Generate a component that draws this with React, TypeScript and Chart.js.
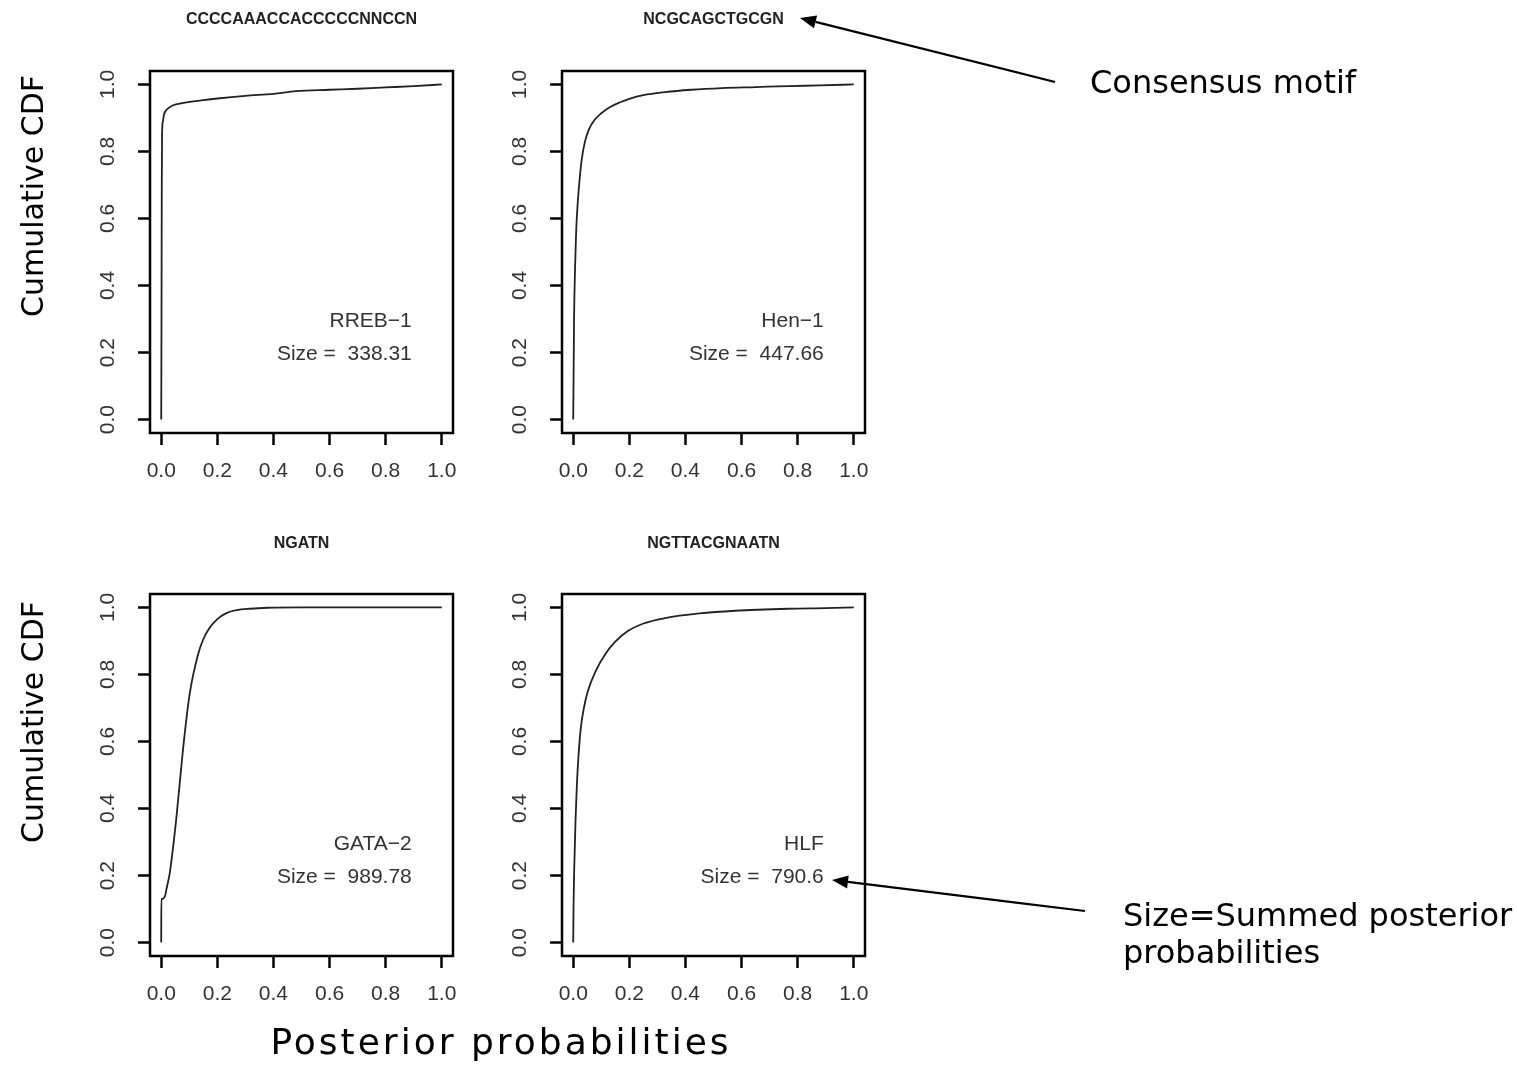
import React, { useEffect, useRef } from 'react';
import { Chart, registerables } from 'chart.js';

Chart.register(...registerables);

// ---- data ----
const tickValues = [0, 0.2, 0.4, 0.6, 0.8, 1.0];

const rrebX = [0, 0.001, 0.002, 0.003, 0.006, 0.01, 0.02, 0.04, 0.08, 0.15, 0.2, 0.3, 0.4, 0.48, 0.6, 0.7, 0.8, 0.9, 1.0];
const rrebY = [0, 0.3, 0.7, 0.85, 0.89, 0.91, 0.925, 0.937, 0.945, 0.953, 0.958, 0.966, 0.972, 0.98, 0.984, 0.987, 0.991, 0.995, 1.0];

const henX = [0, 0.001, 0.003, 0.0065, 0.01, 0.014, 0.02, 0.03, 0.042, 0.056, 0.075, 0.1, 0.13, 0.165, 0.2, 0.25, 0.327, 0.42, 0.53, 0.65, 0.768, 0.88, 1.0];
const henY = [0, 0.1, 0.3, 0.45, 0.55, 0.62, 0.69, 0.774, 0.83, 0.866, 0.893, 0.914, 0.932, 0.946, 0.957, 0.968, 0.977, 0.984, 0.989, 0.992, 0.995, 0.997, 1.0];

const gataX = [0, 0.0005, 0.002, 0.008, 0.014, 0.02, 0.03, 0.054, 0.077, 0.101, 0.131, 0.15, 0.1725, 0.2, 0.232, 0.27, 0.315, 0.38, 0.5, 0.7, 1.0];
const gataY = [0, 0.13, 0.13, 0.132, 0.14, 0.165, 0.205, 0.372, 0.571, 0.74, 0.859, 0.905, 0.939, 0.965, 0.983, 0.992, 0.996, 0.999, 1.0, 1.0, 1.0];

const hlfX = [0, 0.001, 0.003, 0.0055, 0.0085, 0.013, 0.019, 0.027, 0.038, 0.052, 0.08, 0.117, 0.15, 0.196, 0.25, 0.327, 0.45, 0.577, 0.768, 0.9, 1.0];
const hlfY = [0, 0.1, 0.2, 0.28, 0.372, 0.47, 0.56, 0.64, 0.7, 0.75, 0.81, 0.864, 0.898, 0.93, 0.952, 0.968, 0.982, 0.99, 0.996, 0.998, 1.0];

const motifs = ['CCCCAAACCACCCCCNNCCN', 'NCGCAGCTGCGN', 'NGATN', 'NGTTACGNAATN'];
const factorNames = ['RREB\u22121', 'Hen\u22121', 'GATA\u22122', 'HLF'];
const sizeValues = ['338.31', '447.66', '989.78', '790.6'];

// ---- layout ----
const AX_W = 100;
const AX_H = 60;
const PAD = 40;

const panels = [
  { xs: rrebX, ys: rrebY, name: factorNames[0], size: sizeValues[0], motif: motifs[0], left: 150, top: 71, w: 303, h: 362 },
  { xs: henX, ys: henY, name: factorNames[1], size: sizeValues[1], motif: motifs[1], left: 562, top: 71, w: 303, h: 362 },
  { xs: gataX, ys: gataY, name: factorNames[2], size: sizeValues[2], motif: motifs[2], left: 150, top: 594, w: 303, h: 362 },
  { xs: hlfX, ys: hlfY, name: factorNames[3], size: sizeValues[3], motif: motifs[3], left: 562, top: 594, w: 303, h: 362 },
];

const TICK_FONT = { family: '"Liberation Sans", Arial, sans-serif', size: 21 };

function Panel(props: any) {
  const { xs, ys, name, size, left, top, w, h } = props;
  const ref = useRef<HTMLCanvasElement>(null);

  useEffect(() => {
    const panelPlugin = {
      id: 'panelDecor',
      afterDatasetsDraw(chart: any) {
        const { ctx, chartArea, scales } = chart;
        ctx.save();
        ctx.strokeStyle = '#000';
        ctx.lineWidth = 2.5;
        ctx.strokeRect(chartArea.left, chartArea.top, chartArea.right - chartArea.left, chartArea.bottom - chartArea.top);
        ctx.fillStyle = '#333';
        ctx.font = '21px "Liberation Sans", Arial, sans-serif';
        ctx.textAlign = 'right';
        ctx.textBaseline = 'middle';
        const xp = scales.x.getPixelForValue(0.893);
        ctx.fillText(name, xp, scales.y.getPixelForValue(0.294));
        ctx.fillText('Size =  ' + size, xp, scales.y.getPixelForValue(0.194));
        ctx.restore();
      },
    };

    const points = xs.map((x: number, i: number) => ({ x, y: ys[i] }));
    const gridOpts = {
      display: true,
      drawOnChartArea: false,
      drawTicks: true,
      tickLength: 12,
      tickWidth: 2.5,
      tickColor: '#000',
    };

    const chart = new Chart(ref.current as HTMLCanvasElement, {
      type: 'line',
      data: {
        datasets: [
          {
            data: points,
            borderColor: '#222',
            borderWidth: 1.8,
            pointRadius: 0,
            fill: false,
            cubicInterpolationMode: 'monotone',
          },
        ],
      },
      options: {
        animation: false,
        responsive: false,
        devicePixelRatio: 1,
        layout: { padding: { top: PAD, right: PAD, left: 0, bottom: 0 } },
        plugins: { legend: { display: false }, tooltip: { enabled: false }, title: { display: false } },
        events: [],
        scales: {
          x: {
            type: 'linear',
            min: -0.04,
            max: 1.04,
            afterBuildTicks: (s: any) => {
              s.ticks = tickValues.map((v) => ({ value: v }));
            },
            afterFit: (s: any) => {
              s.height = AX_H;
            },
            ticks: {
              autoSkip: false,
              maxRotation: 0,
              minRotation: 0,
              padding: 14,
              color: '#333',
              font: TICK_FONT,
              callback: (v: any) => Number(v).toFixed(1),
            },
            grid: gridOpts,
            border: { display: false },
          },
          y: {
            type: 'linear',
            min: -0.04,
            max: 1.04,
            afterBuildTicks: (s: any) => {
              s.ticks = tickValues.map((v) => ({ value: v }));
            },
            afterFit: (s: any) => {
              s.width = AX_W;
            },
            ticks: {
              autoSkip: false,
              minRotation: 90,
              maxRotation: 90,
              crossAlign: 'center',
              padding: 15,
              color: '#333',
              font: TICK_FONT,
              callback: (v: any) => Number(v).toFixed(1),
            },
            grid: gridOpts,
            border: { display: false },
          },
        },
      } as any,
      plugins: [panelPlugin],
    } as any);
    return () => chart.destroy();
  }, []);

  return (
    <canvas
      ref={ref}
      width={w + AX_W + PAD}
      height={h + AX_H + PAD}
      style={{ position: 'absolute', left: left - AX_W, top: top - PAD, width: w + AX_W + PAD, height: h + AX_H + PAD }}
    />
  );
}

function Arrow({ x1, y1, x2, y2 }: { x1: number; y1: number; x2: number; y2: number }) {
  // line from (x1,y1) to tip (x2,y2)
  const ang = Math.atan2(y2 - y1, x2 - x1);
  const len = 16;
  const half = 6.5;
  const bx = x2 - len * Math.cos(ang);
  const by = y2 - len * Math.sin(ang);
  const px = -Math.sin(ang) * half;
  const py = Math.cos(ang) * half;
  return (
    <g>
      <line x1={x1} y1={y1} x2={bx} y2={by} stroke="#000" strokeWidth={2.2} />
      <polygon points={`${x2},${y2} ${bx + px},${by + py} ${bx - px},${by - py}`} fill="#000" />
    </g>
  );
}

export default function App() {
  const titleFont = '"Liberation Sans", Arial, sans-serif';
  const annFont = '"DejaVu Sans", Verdana, sans-serif';
  return (
    <div style={{ position: 'absolute', left: 0, top: 0, width: 1517, height: 1071, background: '#fff', overflow: 'hidden' }}>
      {panels.map((p, i) => (
        <Panel key={i} {...p} />
      ))}
      <svg width={1517} height={1071} style={{ position: 'absolute', left: 0, top: 0, pointerEvents: 'none' }}>
        {panels.map((p, i) => (
          <text
            key={'t' + i}
            x={p.left + p.w / 2}
            y={i < 2 ? 24 : 547.5}
            textAnchor="middle"
            fontFamily={titleFont}
            fontWeight="bold"
            fontSize={16}
            fill="#222"
          >
            {p.motif}
          </text>
        ))}
        <text transform="translate(43,196) rotate(-90)" textAnchor="middle" fontFamily={annFont} fontSize={30} fill="#000">
          Cumulative CDF
        </text>
        <text transform="translate(43,722) rotate(-90)" textAnchor="middle" fontFamily={annFont} fontSize={30} fill="#000">
          Cumulative CDF
        </text>
        <text x={501} y={1054} textAnchor="middle" fontFamily={annFont} fontSize={36} letterSpacing={3} fill="#000">
          Posterior probabilities
        </text>
        <text x={1090} y={92.5} fontFamily={annFont} fontSize={32} fill="#000">
          Consensus motif
        </text>
        <text x={1123} y={926} fontFamily={annFont} fontSize={32} fill="#000">
          Size=Summed posterior
        </text>
        <text x={1123} y={963} fontFamily={annFont} fontSize={32} fill="#000">
          probabilities
        </text>
        <Arrow x1={1055} y1={82} x2={800} y2={18} />
        <Arrow x1={1085} y1={911} x2={832} y2={880} />
      </svg>
    </div>
  );
}
